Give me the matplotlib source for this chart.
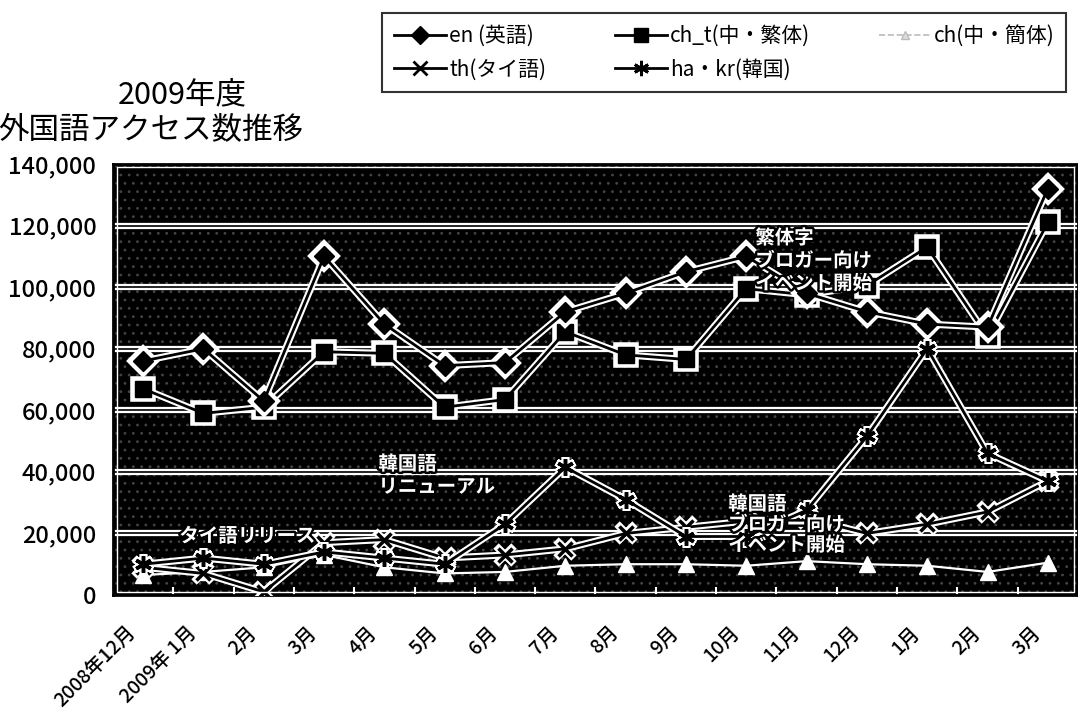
import matplotlib
matplotlib.use("Agg")
import matplotlib.pyplot as plt
import matplotlib.patheffects as pe
from matplotlib.lines import Line2D
from matplotlib.patches import Rectangle
from matplotlib.ticker import FuncFormatter, FixedLocator
from matplotlib.transforms import ScaledTranslation

plt.rcParams['font.family'] = ['Noto Sans CJK JP', 'DejaVu Sans']
plt.rcParams['hatch.linewidth'] = 0.8

# data (monthly access counts)
months = ['2008年12月', '2009年 1月', '2月', '3月', '4月', '5月', '6月', '7月',
          '8月', '9月', '10月', '11月', '12月', '1月', '2月', '3月']
en = [76000, 80000, 63000, 110000, 88000, 74500, 75500, 92000,
      98000, 105000, 110000, 98000, 92000, 88000, 87000, 132000]
ch_t = [67000, 59000, 61000, 79000, 78500, 61000, 63500, 85500,
        78000, 76500, 99500, 97500, 100500, 113000, 84000, 121000]
ch = [6500, 7500, 9000, 13000, 9000, 7000, 7500, 9500,
      10000, 10000, 9500, 11000, 10000, 9500, 7500, 10500]
th = [9000, 7000, 1000, 17000, 18000, 12000, 13000, 15000,
      20000, 22000, 24000, 25000, 20000, 23000, 27000, 37000]
ha_kr = [10000, 12000, 10000, 14000, 12000, 10000, 23000, 41500,
         31000, 19000, 19000, 27500, 51500, 80000, 46000, 37000]

labels = ['en (英語)', 'ch_t(中・繁体)', 'ch(中・簡体)', 'th(タイ語)', 'ha・kr(韓国)']

fig = plt.figure(figsize=(10.78, 7.13), dpi=100)
ax = fig.add_axes([0.1048, 0.1655, 0.8952, 0.6045])
ax.set_facecolor('black')

# speckled plot background
ax.add_patch(Rectangle((0, 0), 1, 1, transform=ax.transAxes, facecolor='none',
                       edgecolor='#444444', hatch='..', lw=0, zorder=0.5))

x = list(range(len(months)))

# double white grid lines
for v in range(20000, 140000, 20000):
    ax.axhline(v, color='black', lw=1.2, zorder=1,
               path_effects=[pe.withStroke(linewidth=4.5, foreground='white')])


def halo_line(y, marker, ms, z, mew=1.0):
    # white outline first, black line and marker on top
    ax.plot(x, y, color='white', lw=5, marker=marker, ms=ms + 3, mfc='white', mec='white',
            mew=mew + 3, zorder=z, solid_joinstyle='round')
    ax.plot(x, y, color='black', lw=2, marker=marker, ms=ms, mfc='black', mec='black',
            mew=mew, zorder=z + 0.1)


ax.plot(x, ch, color='white', lw=1.6, marker='^', ms=11, mfc='white', mec='white', zorder=2)
halo_line(th, 'x', 10, 3, mew=2.5)
halo_line(ha_kr, (6, 2, 0), 12, 3.2, mew=2.5)
halo_line(ch_t, 's', 11, 4)
halo_line(en, 'D', 10, 5)

ax.set_xlim(-0.5, len(months) - 0.5)
ax.set_ylim(0, 140000)

ax.set_xticks(x)
ax.set_xticklabels(months, rotation=45, ha='right', va='top', rotation_mode='anchor',
                   fontsize=14, fontweight='medium')
ax.tick_params(axis='x', which='major', length=0, pad=20)
ax.xaxis.set_minor_locator(FixedLocator([i + 0.5 for i in range(len(months) - 1)]))
ax.tick_params(axis='x', which='minor', direction='in', length=6, color='white', width=1.5)
offset = ScaledTranslation(-0.17, 0, fig.dpi_scale_trans)
for lab in ax.get_xticklabels():
    lab.set_transform(lab.get_transform() + offset)

ax.set_yticks(range(0, 140001, 20000))
ax.yaxis.set_major_formatter(FuncFormatter(lambda v, p: f'{int(v):,}'))
ax.tick_params(axis='y', length=0, pad=12, labelsize=17)
for lab in ax.get_yticklabels():
    lab.set_fontweight('medium')

for s in ax.spines.values():
    s.set_color('black')
    s.set_linewidth(2)
ax.add_patch(Rectangle((0.004, 0.006), 0.992, 0.988, transform=ax.transAxes,
                       fill=False, ec='white', lw=1, zorder=6))

# annotations
txt_fx = [pe.withStroke(linewidth=3.5, foreground='black')]
ax.text(10.15, 119000, '繁体字\nブロガー向け\nイベント開始', color='white', fontsize=14,
        fontweight='bold', va='top', ha='left', linespacing=1.25, zorder=7, path_effects=txt_fx)
ax.text(3.9, 45500, '韓国語\nリニューアル', color='white', fontsize=14,
        fontweight='bold', va='top', ha='left', linespacing=1.25, zorder=7, path_effects=txt_fx)
ax.text(0.6, 19000, 'タイ語リリース', color='white', fontsize=14,
        fontweight='bold', va='center', ha='left', zorder=7, path_effects=txt_fx)
ax.text(9.7, 32500, '韓国語\nブロガー向け\nイベント開始', color='white', fontsize=14,
        fontweight='bold', va='top', ha='left', linespacing=1.1, zorder=7, path_effects=txt_fx)

# title
fig.text(182 / 1078, 1 - 95 / 713, '2009年度', fontsize=22, ha='center', va='center')
fig.text(-2 / 1078, 1 - 130 / 713, '外国語アクセス数推移', fontsize=22, ha='left', va='center')

# legend
handles = [
    Line2D([], [], color='black', lw=2, marker='D', ms=9, mfc='black'),
    Line2D([], [], color='black', lw=2, marker='x', ms=10, mew=2),
    Line2D([], [], color='black', lw=2, marker='s', ms=10, mfc='black'),
    Line2D([], [], color='black', lw=2, marker=(6, 2, 0), ms=11, mew=2),
    Line2D([], [], color='#bbbbbb', lw=1.2, ls='--', marker='^', ms=6, mfc='#dddddd', mec='#bbbbbb'),
]
leg_labels = [labels[0], labels[3], labels[1], labels[4], labels[2]]
leg = fig.legend(handles, leg_labels, ncol=3, loc='upper left',
                 bbox_to_anchor=(372 / 1078, 1 - 3 / 713), fontsize=15,
                 frameon=True, fancybox=False, edgecolor='black', handlelength=2.5,
                 columnspacing=3.3, handletextpad=0.15, borderpad=0.55, labelspacing=0.55)
leg.get_frame().set_linewidth(1.5)

fig.savefig('out.png', dpi=100)
